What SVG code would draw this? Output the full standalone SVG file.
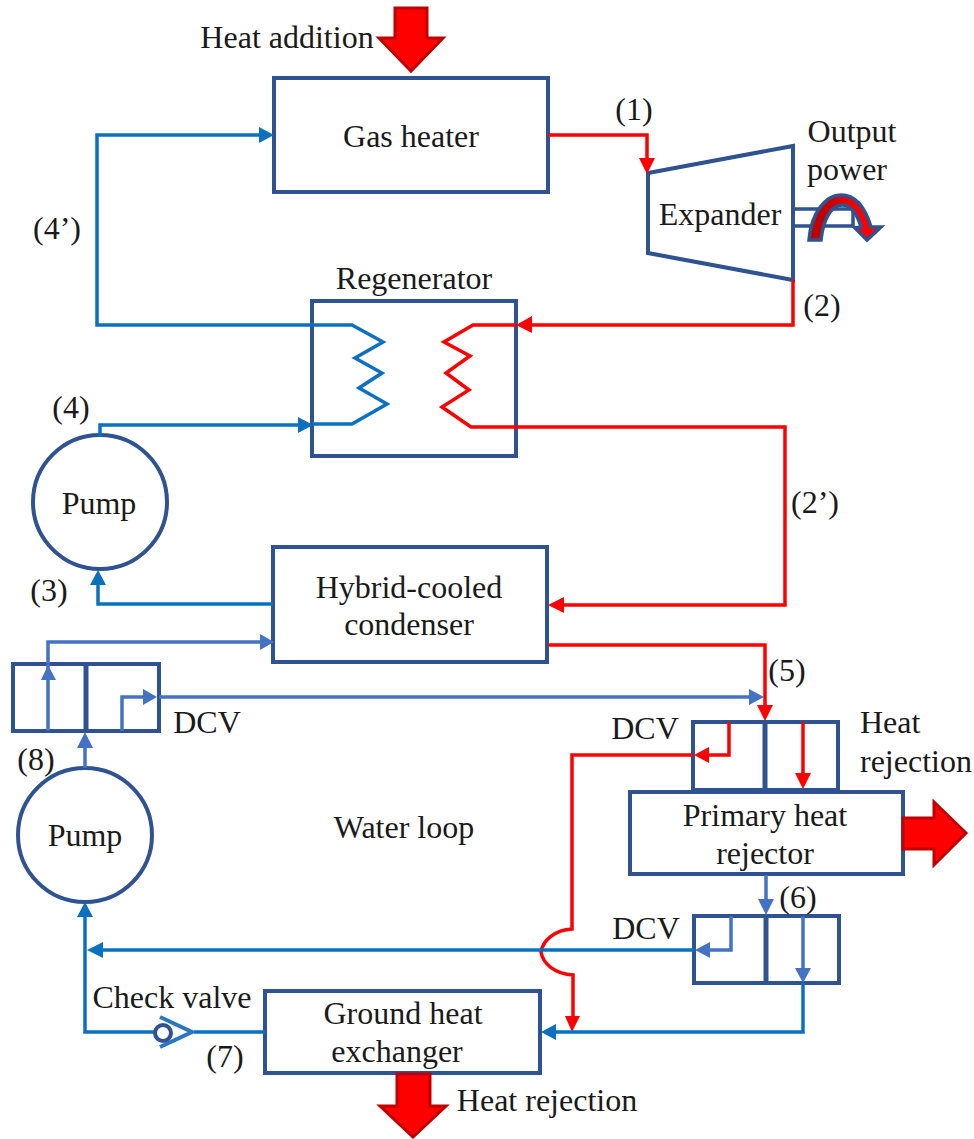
<svg xmlns="http://www.w3.org/2000/svg" width="974" height="1139" viewBox="0 0 974 1139">
<style>
text{font-family:"Liberation Serif","Times New Roman",serif;font-size:32px;fill:#1a1a1a;text-anchor:middle;transform:translateY(1px)}
.st{text-anchor:start}
.b{fill:#fff;stroke:#2f5391;stroke-width:4}
.o{fill:none;stroke:#2f5391;stroke-width:5}
.r{fill:none;stroke:#f00;stroke-width:3.5}
.c{fill:none;stroke:#0b70bf;stroke-width:3.5}
.l{fill:none;stroke:#4472c4;stroke-width:3.5}
.rf{fill:#f00}.cf{fill:#0b70bf}.lf{fill:#4472c4}
.big{fill:#f00;stroke:#c00000;stroke-width:3;stroke-linejoin:miter}
</style>
<defs><linearGradient id="arc"><stop offset="0.2" stop-color="#c00000"/><stop offset="0.7" stop-color="#f00"/></linearGradient></defs>
<g id="heat-addition"><text x="287" y="47">Heat addition</text><path class="big" d="M395 8H427V38H443L411 71L379 38H395Z"/></g>
<g id="gas-heater"><rect class="b" x="274" y="78" width="274" height="114"/><text x="411" y="146">Gas heater</text></g>
<g id="expander"><path class="b" d="M648 173L793 146V280L648 253Z"/><text x="720" y="224">Expander</text></g>
<g id="output-power">
<text x="852" y="141">Output</text><text x="847" y="179">power</text>
<path d="M794 209H853V226H794" fill="none" stroke="#2f5391" stroke-width="3.5"/>
<path d="M809 240C811 213 826 195 841 195C855 195 865 207 871 227L881 227L867 240L855 228L861 227C857 213 850 205 842 205C831 205 823 220 821 240Z" fill="url(#arc)" stroke="#2f5391" stroke-width="3.5"/>
</g>
<g id="regenerator"><text x="414" y="288">Regenerator</text><rect class="b" x="312" y="301" width="204" height="155"/>
<path class="c" d="M312 325H352L383 342L355 358L382 373L359 388L387 404L352 424H312"/>
<path class="r" d="M516 325H473L444 342L470 356L446 373L469 390L442 407L471 427H516"/></g>
<g id="pump-top"><circle class="b" cx="100" cy="502" r="67"/><text x="99" y="513">Pump</text></g>
<g id="condenser"><rect class="b" x="273" y="547" width="274" height="115"/><text x="409" y="597">Hybrid-cooled</text><text x="409" y="634">condenser</text></g>
<g id="dcv-left"><rect class="b" x="13" y="664" width="146" height="67"/><path class="o" d="M86 664V731"/><text x="207" y="732">DCV</text></g>
<g id="pump-bottom"><circle class="b" cx="85" cy="835" r="67"/><text x="85" y="845">Pump</text></g>
<g id="primary-rejector"><rect class="b" x="630" y="792" width="273" height="82"/><text x="765" y="825">Primary heat</text><text x="765" y="863">rejector</text></g>
<g id="dcv-primary"><path d="M693 792V722H838V792" fill="#fff" stroke="#2f5391" stroke-width="4"/><path d="M693 790.500H838" fill="none" stroke="#2f5391" stroke-width="5"/><path class="o" d="M765 722V790"/><text x="645" y="738">DCV</text></g>
<g id="dcv-lower"><rect class="b" x="694" y="916" width="145" height="67"/><path class="o" d="M766 916V983"/><text x="646" y="938">DCV</text></g>
<g id="ground-hx"><rect class="b" x="265" y="991" width="275" height="82"/><text x="403" y="1023">Ground heat</text><text x="397" y="1061">exchanger</text></g>
<g id="check-valve"><text x="172" y="1007">Check valve</text></g>
<g id="labels">
<text x="634" y="119">(1)</text><text x="57" y="238">(4’)</text><text x="822" y="315">(2)</text><text x="71" y="417">(4)</text><text x="815" y="512">(2’)</text><text x="49" y="600">(3)</text><text x="787" y="680">(5)</text><text x="36" y="769">(8)</text><text x="798" y="907">(6)</text><text x="225" y="1066">(7)</text>
<text x="404" y="837">Water loop</text><text class="st" x="860" y="732">Heat</text><text class="st" x="860" y="771">rejection</text><text x="547" y="1110">Heat rejection</text>
</g>
<g id="connectors">
<path class="r" d="M548 135H647V160"/><path class="rf" d="M639 158H655L647 174Z"/>
<path class="c" d="M260 135H97V325H312"/><path class="cf" d="M259 127L274 135L259 143Z"/>
<path class="r" d="M793 280V325H530"/><path class="rf" d="M532 316L516 325L532 333Z"/>
<path class="c" d="M100 436V425H300"/><path class="cf" d="M298 417L313 425L298 433Z"/>
<path class="r" d="M516 427H785V605H563"/><path class="rf" d="M564 597L548 605L564 613Z"/>
<path class="c" d="M273 604H98V584"/><path class="cf" d="M90 585L98 570L106 585Z"/>
<path class="l" d="M48 731V642H260"/><path class="lf" d="M260 634L274 642L260 650Z"/><path class="lf" d="M41 680L48 665L56 680Z"/>
<path class="l" d="M85 768V745"/><path class="lf" d="M77 748L85 732L93 748Z"/>
<path class="l" d="M122 731V697H145M159 697H750"/><path class="lf" d="M143 689L157 697L143 705Z"/><path class="lf" d="M749 689L764 697L749 705Z"/>
<path class="r" d="M548 645H765V708"/><path class="rf" d="M757 705H773L765 721Z"/>
<path class="r" d="M729 722V755H706"/><path class="rf" d="M709 747L694 755L709 763Z"/>
<path class="r" d="M693 755H572V929C555 930 543 940 541 952C543 964 555 974 573 975V1018"/><path class="rf" d="M565 1016H580L572 1032Z"/>
<path class="r" d="M803 722V775"/><path class="rf" d="M795 773H811L803 789Z"/>
<path class="l" d="M766 875V903"/><path class="lf" d="M758 899H774L766 915Z"/>
<path class="l" d="M731 916V950H707"/><path class="lf" d="M710 942L695 950L710 958Z"/>
<path class="c" d="M694 950H100"/><path class="cf" d="M103 942L87 950L103 958Z"/>
<path class="l" d="M803 916V970"/><path class="lf" d="M795 968H811L803 983Z"/>
<path class="c" d="M803 983V1032H555"/><path class="cf" d="M556 1024L541 1032L556 1040Z"/>
<path class="c" d="M265 1032H194M155 1032H85V915"/><path class="cf" d="M77 917L85 902L93 917Z"/>
</g>
<g id="check-valve-symbol"><path d="M160 1017L192 1032L160 1047" fill="none" stroke="#2a78c0" stroke-width="4"/><circle cx="163" cy="1033" r="8" fill="none" stroke="#2f5391" stroke-width="4"/></g>
<g id="heat-rejection-right"><path class="big" d="M903 818H934V802L966 833L934 865V849H903Z"/></g>
<g id="heat-rejection-bottom"><path class="big" d="M397 1074H430V1106H446L413 1137L380 1106H397Z"/></g>
</svg>
